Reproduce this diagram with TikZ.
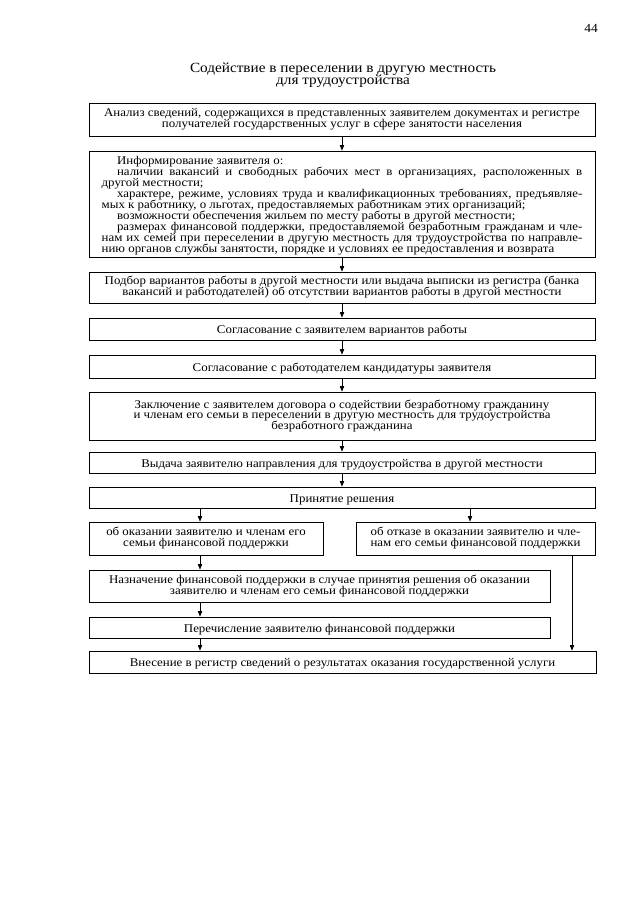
\documentclass[tikz,border=0pt]{standalone}
\usepackage{fontspec}
\setmainfont{Liberation Serif}[FakeStretch=1.09]
\usetikzlibrary{arrows.meta}
\newcommand\tightlines{\lineskiplimit=-20pt\relax}
\begin{document}
\begin{tikzpicture}[x=0.93pt,y=-0.93pt,
  box/.style={draw, line width=0.8pt, align=center, inner sep=0pt,
    font=\fontsize{11}{10.2}\selectfont\tightlines,
    execute at begin node={\rule{0pt}{11pt}}},
  arr/.style={-{Triangle[length=5pt,width=4pt]}, line width=0.6pt},
  ln/.style={line width=0.6pt}]
\useasboundingbox (0,0) rectangle (640,905);
\node (pg) at (591,28) {\fontsize{11.5}{12}\selectfont 44};
\node[align=center, font=\fontsize{13}{11.6}\selectfont\tightlines] (title) at (343,75)
  {Содействие в переселении в другую местность\\для трудоустройства};
\node[box, minimum width=470.6pt, minimum height=30.7pt] (b1) at (342,119.5)
  {Анализ сведений, содержащихся в представленных заявителем документах и регистре\\
   получателей государственных услуг в сфере занятости населения};
\node[box, minimum width=470.6pt, minimum height=98.6pt, text width=447pt, align=justify] (b2) at (342,204)
  {\hyphenpenalty=10000\relax\tolerance=10000\relax
   \hspace*{1.3em}Информирование заявителя о:\par
   \hspace*{1.3em}наличии вакансий и свободных рабочих мест в организациях, расположенных в\linebreak
   другой местности;\par
   \hspace*{1.3em}характере, режиме, условиях труда и квалификационных требованиях, предъявляе-\linebreak
   мых к работнику, о льготах, предоставляемых работникам этих организаций;\par
   \hspace*{1.3em}возможности обеспечения жильем по месту работы в другой местности;\par
   \hspace*{1.3em}размерах финансовой поддержки, предоставляемой безработным гражданам и чле-\linebreak
   нам их семей при переселении в другую местность для трудоустройства по направле-\linebreak
   нию органов службы занятости, порядке и условиях ее предоставления и возврата\par};
\node[box, minimum width=470.6pt, minimum height=28.8pt] (b3) at (342,287.5)
  {Подбор вариантов работы в другой местности или выдача выписки из регистра (банка\\
   вакансий и работодателей) об отсутствии вариантов работы в другой местности};
\node[box, minimum width=470.6pt, minimum height=20.5pt] (b4) at (342,329)
  {Согласование с заявителем вариантов работы};
\node[box, minimum width=470.6pt, minimum height=21.4pt] (b5) at (342,366.5)
  {Согласование с работодателем кандидатуры заявителя};
\node[box, minimum width=470.6pt, minimum height=44.6pt] (b6) at (342,416)
  {Заключение с заявителем договора о содействии безработному гражданину\\
   и членам его семьи в переселении в другую местность для трудоустройства\\
   безработного гражданина};
\node[box, minimum width=470.6pt, minimum height=19.5pt] (b7) at (342,462.5)
  {Выдача заявителю направления для трудоустройства в другой местности};
\node[box, minimum width=470.6pt, minimum height=19.5pt] (b8) at (342,497.5)
  {Принятие решения};
\node[box, minimum width=217.6pt, minimum height=30.7pt] (b9l) at (206,538.5)
  {об оказании заявителю и членам его\\семьи финансовой поддержки};
\node[box, minimum width=222.3pt, minimum height=30.7pt] (b9r) at (475.5,538.5)
  {об отказе в оказании заявителю и чле-\\нам его семьи финансовой поддержки};
\node[box, minimum width=428.7pt, minimum height=29.8pt] (b10) at (319.5,586)
  {Назначение финансовой поддержки в случае принятия решения об оказании\\
   заявителю и членам его семьи финансовой поддержки};
\node[box, minimum width=428.7pt, minimum height=19.5pt] (b11) at (319.5,627.5)
  {Перечисление заявителю финансовой поддержки};
\node[box, minimum width=471.5pt, minimum height=20.5pt] (b12) at (342.5,662)
  {Внесение в регистр сведений о результатах оказания государственной услуги};
\coordinate (xl) at (200,0);
\coordinate (xr) at (470,0);
\coordinate (xrr) at (572,0);
\draw[arr] (b1.south) -- (b2.north);
\draw[arr] (b2.south) -- (b3.north);
\draw[arr] (b3.south) -- (b4.north);
\draw[arr] (b4.south) -- (b5.north);
\draw[arr] (b5.south) -- (b6.north);
\draw[arr] (b6.south) -- (b7.north);
\draw[arr] (b7.south) -- (b8.north);
\draw[arr] (b8.south -| xl) -- (b9l.north -| xl);
\draw[arr] (b8.south -| xr) -- (b9r.north -| xr);
\draw[arr] (b9l.south -| xl) -- (b10.north -| xl);
\draw[arr] (b10.south -| xl) -- (b11.north -| xl);
\draw[arr] (b11.south -| xl) -- (b12.north -| xl);
\draw[arr] (b9r.south -| xrr) -- (b12.north -| xrr);
\end{tikzpicture}
\end{document}
